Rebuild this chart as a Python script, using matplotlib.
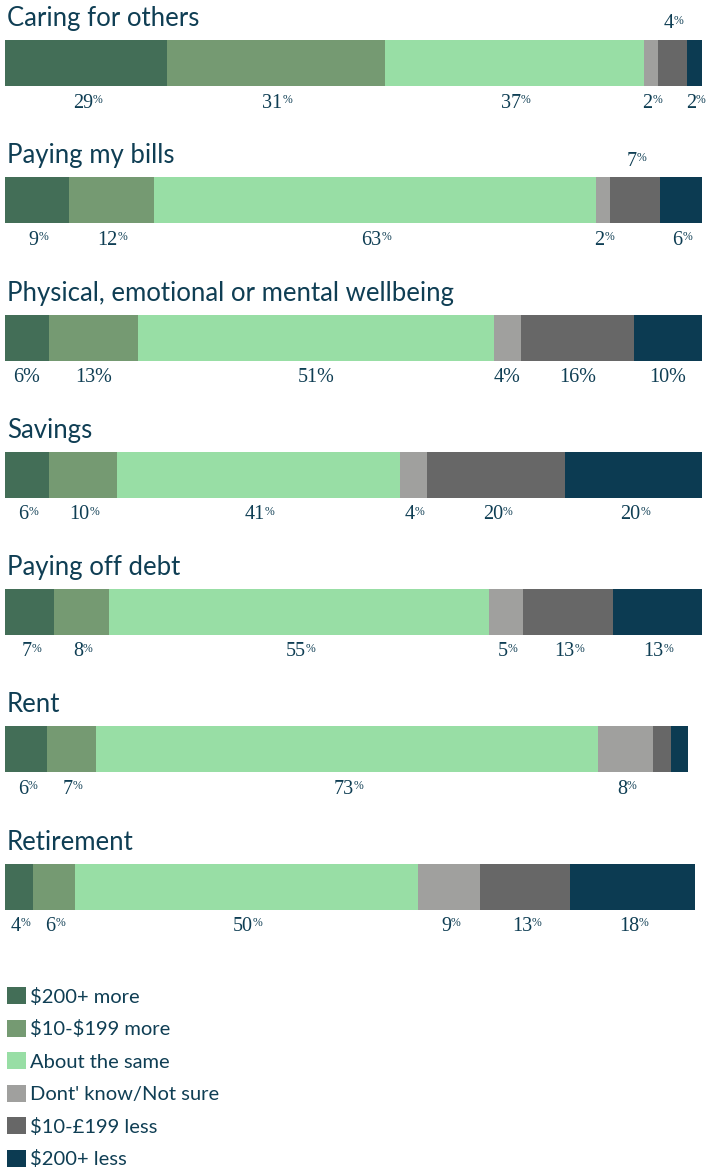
import matplotlib
matplotlib.use("Agg")
import matplotlib.pyplot as plt
import numpy as np

# ---- data ----
topics = ["Caring for others", "Paying my bills", "Physical, emotional or mental wellbeing",
          "Savings", "Paying off debt", "Rent", "Retirement"]
categories = ["\\$200+ more", "\\$10-\\$199 more", "About the same", "Dont' know/Not sure",
              "\\$10-\u00a3199 less", "\\$200+ less"]
# segment widths (share of respondents, as drawn) per topic, category order as above
caring = [23.2, 31.3, 37.2, 2.0, 4.2, 2.1]
bills = [9.1, 12.2, 63.5, 2.0, 7.2, 6.0]
wellbeing = [6.2, 12.9, 51.0, 4.0, 16.1, 9.9]
savings = [6.2, 9.8, 40.6, 4.0, 19.8, 19.7]
debt = [7.0, 7.9, 54.5, 4.9, 12.9, 12.8]
rent = [6.0, 7.0, 72.1, 7.9, 2.6, 2.4]
retirement = [4.0, 6.0, 49.3, 8.9, 12.9, 17.9]
values = [caring, bills, wellbeing, savings, debt, rent, retirement]
# printed labels (as shown on the chart)
caring_lbl = ["29", "31", "37", "2", "4", "2"]
bills_lbl = ["9", "12", "63", "2", "7", "6"]
wellbeing_lbl = ["6", "13", "51", "4", "16", "10"]
savings_lbl = ["6", "10", "41", "4", "20", "20"]
debt_lbl = ["7", "8", "55", "5", "13", "13"]
rent_lbl = ["6", "7", "73", "8", None, None]
retirement_lbl = ["4", "6", "50", "9", "13", "18"]
labels = [caring_lbl, bills_lbl, wellbeing_lbl, savings_lbl, debt_lbl, rent_lbl, retirement_lbl]
# which labels sit above the bar (topic index, category index)
above = {(0, 4), (1, 4)}
# wellbeing row prints a full-size percent sign
plain_pct_rows = {2}

colors = ["#436e57", "#759a72", "#98dea5", "#a0a09e", "#676767", "#0c3b52"]
text_col = "#0f3e54"

W, H = 710, 1172
fig = plt.figure(figsize=(W / 100, H / 100), dpi=100)
ax = fig.add_axes([0, 0, 1, 1])
px_per = 6.964
x0 = 5.4
ax.set_xlim(-x0 / px_per, (W - x0) / px_per)
ax.set_ylim(H, 0)
ax.axis("off")

centers = 63 + 137.25 * np.arange(len(topics))
bar_h = 46
vals = np.array(values, dtype=float)
lefts = np.zeros(len(topics))
for j, cat in enumerate(categories):
    ax.barh(centers, vals[:, j], left=lefts, height=bar_h, color=colors[j],
            label=cat, linewidth=0)
    for i in range(len(topics)):
        lab = labels[i][j]
        if lab is None:
            continue
        xc = lefts[i] + vals[i, j] / 2
        y = centers[i] - 39 if (i, j) in above else centers[i] + 40
        if i in plain_pct_rows:
            ax.text(xc, y, lab + "%", ha="center", va="center", fontsize=14.5,
                    family="Liberation Serif", color=text_col)
        else:
            num = ax.annotate(lab, xy=(xc, y), xytext=(-2.5, 0), textcoords="offset points",
                              ha="center", va="center", fontsize=14.5,
                              family="Liberation Serif", color=text_col)
            ax.annotate("%", xy=(1, 1), xycoords=num, xytext=(-0.1, -0.3),
                        textcoords="offset points", ha="left", va="top",
                        fontsize=8.5, family="Liberation Serif", color=text_col)
    lefts += vals[:, j]

for i, t in enumerate(topics):
    ax.text(-x0 / px_per + 7 / px_per, centers[i] - 37, t, ha="left", va="baseline",
            fontsize=18.5, family="Lato", color=text_col)

leg = ax.legend(loc="upper left", bbox_to_anchor=(7 / W, 1 - 987 / H),
                bbox_transform=fig.transFigure, frameon=False,
                prop={"family": "Lato", "size": 14.5}, labelcolor=text_col,
                handlelength=0.95, handleheight=0.95, handletextpad=0.2,
                labelspacing=0.69, borderpad=0, borderaxespad=0)

fig.savefig("out.png", dpi=100)
